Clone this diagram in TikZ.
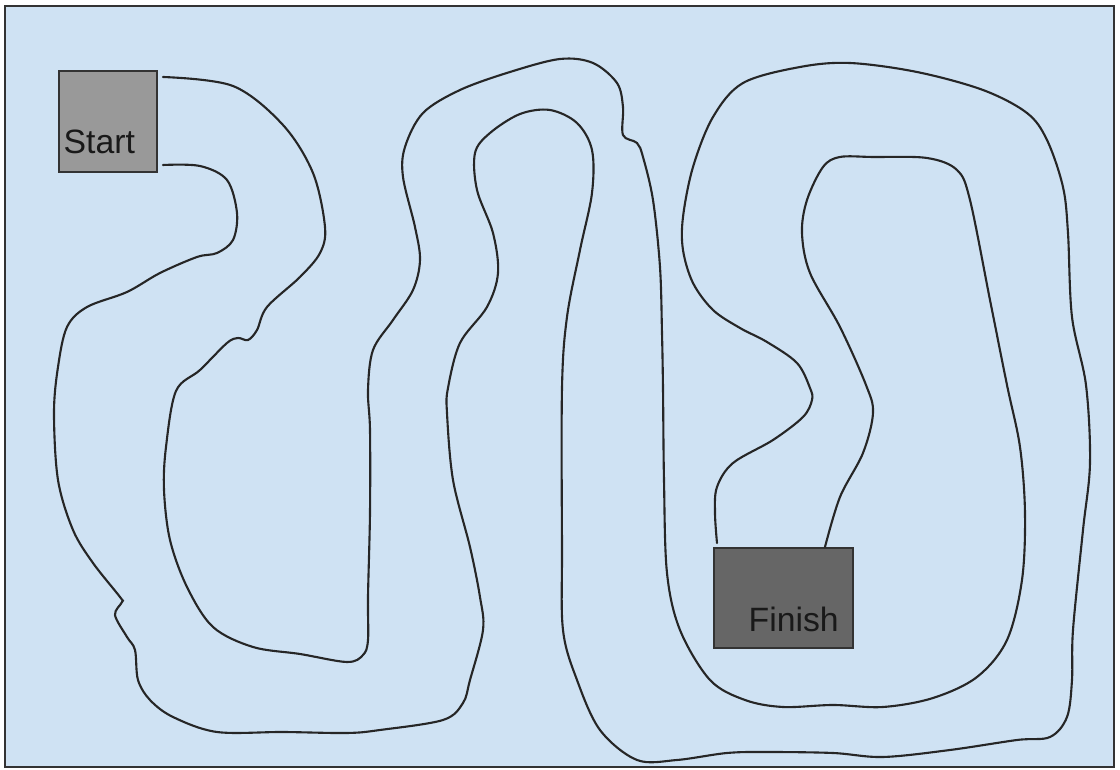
\documentclass[tikz,border=0pt]{standalone}
\usepackage{fontspec}
\setmainfont{Liberation Sans}
\usepackage{tikz}
\usetikzlibrary{positioning}

\definecolor{trackbg}{HTML}{CFE2F3}
\definecolor{startgray}{HTML}{999999}
\definecolor{finishgray}{HTML}{666666}
\definecolor{edgegray}{HTML}{333333}

\begin{document}
\begin{tikzpicture}[
    x=0.01cm, y=-0.01cm,
    field/.style={draw=edgegray, fill=trackbg, line width=0.8pt},
    box/.style={rectangle, draw=edgegray, line width=0.5pt, inner sep=0pt},
    boxtext/.style={anchor=base west, inner sep=0pt, font=\fontsize{9.6}{11.5}\selectfont, text=black!90},
    lane/.style={draw=black!85, line width=0.6pt, line cap=round}
]
\useasboundingbox (0,0) rectangle (1120,770);

% Field
\path[field] (5,6) rectangle (1114,767);

% Boxes
\node[box, fill=startgray, minimum width=0.98cm, minimum height=1.01cm] (start) at (108,121.5) {};
\node[box, fill=finishgray, minimum width=1.39cm, minimum height=1.00cm] (finish) at (783.5,598) {};
\node[boxtext] (starttxt) at (63,154) {Start};
\node[boxtext] (finishtxt) at (748,632) {Finish};

% Outer lane
\draw[lane] plot[smooth, tension=0.55] coordinates {
    (163,77) (233,86) (283,125) (313,173) (325,227) (320,253) (300,277)
    (267,307) (257,330) (248,340) (238,338) (227,343) (200,370) (176,391)
    (166,447) (164,490) (170,540) (187,587) (213,627) (253,647) (300,654)
    (347,662) (363,655) (368,640) (368,597) (370,513) (370,430) (368,390)
    (373,350) (393,320) (413,290) (420,260) (415,227) (403,177) (405,147)
    (423,113) (460,90) (510,72) (560,59) (593,63) (617,83) (623,107)
    (623,135) (637,143) (643,157) (653,200) (660,267) (662,333) (663,388)
    (664,480) (667,573) (680,630) (710,680) (745,700) (783,707) (833,705)
    (883,707) (933,698) (977,677) (1007,640) (1022,580) (1025,513)
    (1020,447) (1007,385) (990,300) (970,200) (957,170) (927,158)
    (873,157) (840,157) (823,167) (807,200) (802,233) (810,273) (840,327)
    (866,385) (873,413) (863,453) (840,497) (825,547)
};

% Inner lane
\draw[lane] plot[smooth, tension=0.55] coordinates {
    (163,165) (200,166) (227,180) (237,213) (233,240) (217,253) (197,257)
    (160,273) (127,292) (87,307) (67,327) (58,367) (54,413) (58,480)
    (73,530) (93,563) (120,597) (122,602) (115,615) (127,637) (135,650)
    (138,680) (150,700) (173,717) (217,732) (283,732) (347,733) (380,730)
    (443,720) (463,703) (470,680) (483,630) (480,597) (470,547) (453,480)
    (447,413) (448,388) (460,343) (487,307) (498,273) (493,233) (477,190)
    (475,153) (490,133) (520,114) (550,110) (577,123) (592,150) (592,193)
    (580,250) (567,317) (562,388) (562,547) (563,630) (577,680) (600,730)
    (637,760) (677,760) (727,753) (767,752) (833,753) (883,757) (950,750)
    (1017,740) (1050,737) (1067,717) (1072,680) (1073,630) (1083,530)
    (1090,463) (1086,385) (1072,317) (1068,233) (1063,187) (1047,140)
    (1027,113) (983,90) (917,72) (850,63) (800,67) (743,83) (713,117)
    (693,167) (683,217) (683,250) (693,283) (713,310) (740,328) (767,342)
    (797,363) (810,388) (812,400) (803,417) (773,440) (733,463) (717,487)
    (715,513) (717,543)
};

\end{tikzpicture}
\end{document}
